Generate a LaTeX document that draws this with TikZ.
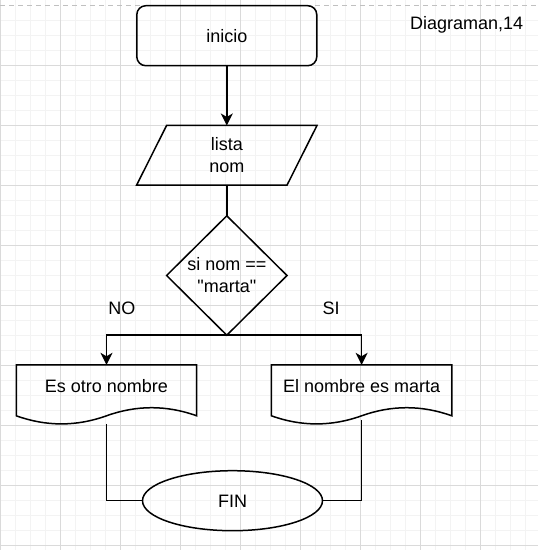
\documentclass[tikz,border=0pt]{standalone}
\usepackage{fontspec}
\newfontfamily\drawfont{Liberation Sans}
\usetikzlibrary{shapes.geometric,arrows.meta,calc}
\definecolor{gridmajor}{RGB}{218,218,218}
\definecolor{gridminor}{RGB}{243,243,243}
\definecolor{pagedash}{RGB}{192,192,192}
\newcommand\docwave[1]{\draw[shapeline] (#1.north west) -- (#1.north east) -- ([yshift=-51pt]#1.north east)
  .. controls ([xshift=-30pt,yshift=-40.2pt]#1.north east) and ([xshift=30pt,yshift=-40.2pt]#1.north) .. ([yshift=-51pt]#1.north)
  .. controls ([xshift=-30pt,yshift=-61.8pt]#1.north) and ([xshift=30pt,yshift=-61.8pt]#1.north west) .. ([yshift=-51pt]#1.north west) -- cycle;}
\begin{document}
\begin{tikzpicture}[x=1pt,y=-1pt,
  txt/.style={font={\drawfont\fontsize{18}{22}\selectfont}},
  one/.style={txt, text height=12.9pt, text depth=0pt},
  shapeline/.style={draw=black, line width=1.5pt},
  conn/.style={draw=black, line width=1.5pt},
  arr/.style={conn, -{Stealth[length=12pt,width=12pt,inset=3.5pt]}}
]
\useasboundingbox (0,0) rectangle (538,550);
\fill[white] (0,0) rectangle (538,550);
% grid
\foreach \x in {15.5,30.5,...,525.5} \draw[gridminor, line width=1pt] (\x,0) -- (\x,550);
\foreach \y in {20.5,35.5,...,545.5} \draw[gridminor, line width=1pt] (0,\y) -- (538,\y);
\foreach \x in {0.5,60.5,...,480.5} \draw[gridmajor, line width=1pt] (\x,0) -- (\x,550);
\foreach \y in {65.5,125.5,...,545.5} \draw[gridmajor, line width=1pt] (0,\y) -- (538,\y);
\draw[pagedash, line width=1pt, dash pattern=on 5pt off 4pt] (0,5.5) -- (538,5.5);

% nodes
\node[one, draw, line width=1.5pt, rounded corners=9pt, minimum width=180pt, minimum height=60pt, inner sep=0pt] (inicio) at (226.8,35.7) {inicio};
\node[txt, align=center, minimum width=150pt, minimum height=59.3pt, inner sep=0pt] (lista) at (226.8,155.3) {lista\\nom};
\draw[shapeline, line join=miter] ([xshift=15pt]lista.north west) -- ([xshift=15pt]lista.north east) -- ([xshift=-15pt]lista.south east) -- ([xshift=-15pt]lista.south west) -- cycle;
\node[txt, align=center, minimum width=120pt, minimum height=119pt, inner sep=0pt] (cond) at (226.8,275.5) {si nom ==\\"marta"};
\draw[shapeline, line join=miter] (cond.north) -- (cond.east) -- (cond.south) -- (cond.west) -- cycle;
\node[one, minimum width=180pt, minimum height=42pt, inner sep=0pt] (docL) at (106.5,386) {Es otro nombre};
\node[one, minimum width=180pt, minimum height=42pt, inner sep=0pt] (docR) at (361.6,386) {El nombre es marta};
\docwave{docL}
\docwave{docR}
\node[one, draw, ellipse, line width=1.5pt, minimum width=180pt, minimum height=60pt, inner sep=0pt] (fin) at (232.5,500.7) {FIN};
\node[one] (no) at (121.8,308.3) {NO};
\node[one] (si) at (331.1,308.3) {SI};
\node[one] (title) at (466.6,23.5) {Diagraman,14};

% connectors
\draw[arr] (inicio.south) -- (lista.north);
\draw[conn] (lista.south) -- (cond.north);
\draw[arr] (cond.south) -| (docL.north);
\draw[arr] (cond.south) -| (docR.north);
\draw[conn] ([yshift=-59pt]docL.north) |- (fin.west);
\draw[conn] ([yshift=-55pt]docR.north) |- (fin.east);
\end{tikzpicture}
\end{document}
